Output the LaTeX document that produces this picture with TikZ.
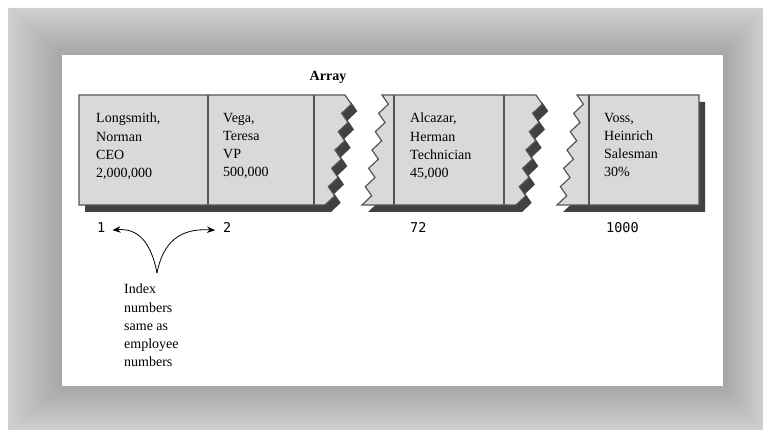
\documentclass[tikz,border=0pt]{standalone}
\usepackage{fontspec}
\setmainfont{Liberation Serif}
\newfontfamily\idxfont{DejaVu Sans Mono}
\usetikzlibrary{arrows.meta,positioning}

\definecolor{cellgray}{HTML}{D9D9D9}
\definecolor{edgegray}{HTML}{555555}
\definecolor{shadowgray}{HTML}{414141}
\definecolor{framelight}{HTML}{D0D0D0}
\definecolor{framedark}{HTML}{A6A6A6}

% zigzag break edges (top x, bottom x)
\newcommand{\zigdown}[2]{\foreach \i in {1,...,12} {-- ({#1+(#2-#1)*\i/12+8*mod(\i,2)},{95+110*\i/12})}}
\newcommand{\zigup}[2]{\foreach \i in {11,...,0} {-- ({#1+(#2-#1)*\i/12+8*mod(\i,2)},{95+110*\i/12})}}

% the three pieces of the array
\newcommand{\pieceone}{(79,95) -- (345,95) \zigdown{345}{325} -- (79,205) -- cycle}
\newcommand{\piecetwo}{(382,95) -- (536,95) \zigdown{536}{516} -- (362,205) \zigup{382}{362} -- cycle}
\newcommand{\piecethree}{(577,95) -- (699,95) -- (699,205) -- (557,205) \zigup{577}{557} -- cycle}

\begin{document}
\begin{tikzpicture}[
        x=1pt, y=-1pt,
        cell/.style={anchor=north west, inner sep=0pt, align=left, font=\fontsize{14}{18.1}\selectfont},
        idxnum/.style={anchor=base west, inner sep=0pt, font=\idxfont\fontsize{13.5}{16}\selectfont},
        idxarrow/.style={line width=0.8pt, -{Stealth[length=8pt,width=6.5pt]}},
        divider/.style={draw=edgegray, line width=1.2pt}
    ]
        % Frame
        \fill[white] (0,0) rectangle (763,430);
        \useasboundingbox (0,0) rectangle (763,430);
        \shade[top color=framelight, bottom color=framedark] (8,8) -- (763,8) -- (723,55) -- (62,55) -- cycle;
        \shade[top color=framedark, bottom color=framelight] (8,430) -- (62,386) -- (723,386) -- (763,430) -- cycle;
        \shade[left color=framelight, right color=framedark] (8,8) -- (62,55) -- (62,386) -- (8,430) -- cycle;
        \shade[left color=framedark, right color=framelight] (763,8) -- (723,55) -- (723,386) -- (763,430) -- cycle;
        \fill[white] (62,55) rectangle (723,386);

        % Array pieces
        \fill[shadowgray, shift={(6,7)}] \pieceone;
        \fill[shadowgray, shift={(6,7)}] \piecetwo;
        \fill[shadowgray, shift={(6,7)}] \piecethree;
        \filldraw[fill=cellgray, draw=edgegray, line width=1.2pt] \pieceone;
        \filldraw[fill=cellgray, draw=edgegray, line width=1.2pt] \piecetwo;
        \filldraw[fill=cellgray, draw=edgegray, line width=1.2pt] \piecethree;
        \foreach \dx in {208,314,394,504,589}
            \draw[divider] (\dx,95) -- (\dx,205);

        % Nodes
        \node[anchor=base, inner sep=0pt, font=\bfseries\fontsize{14}{16}\selectfont] (title) at (328,81) {Array};
        \node[cell] (emp1) at (96,113) {Longsmith,\\Norman\\CEO\\2,000,000};
        \node[cell] (emp2) at (223,113) {Vega,\\Teresa\\VP\\500,000};
        \node[cell] (emp72) at (410,113) {Alcazar,\\Herman\\Technician\\45,000};
        \node[cell] (emp1000) at (604,113) {Voss,\\Heinrich\\Salesman\\30\%};

        \node[idxnum] (n1) at (97,233) {1};
        \node[idxnum] (n2) at (223,233) {2};
        \node[idxnum] (n72) at (410,233) {72};
        \node[idxnum] (n1000) at (606,233) {1000};

        \node[cell] (note) at (124,284) {Index\\numbers\\same as\\employee\\numbers};
        \coordinate (src) at (157,273);

        % Arrows
        \draw[idxarrow, shorten >=7pt] (src) .. controls (151,242) and (138,228) .. (n1.mid east);
        \draw[idxarrow, shorten >=8pt] (src) .. controls (163,242) and (180,228) .. (n2.mid west);
    \end{tikzpicture}
\end{document}
